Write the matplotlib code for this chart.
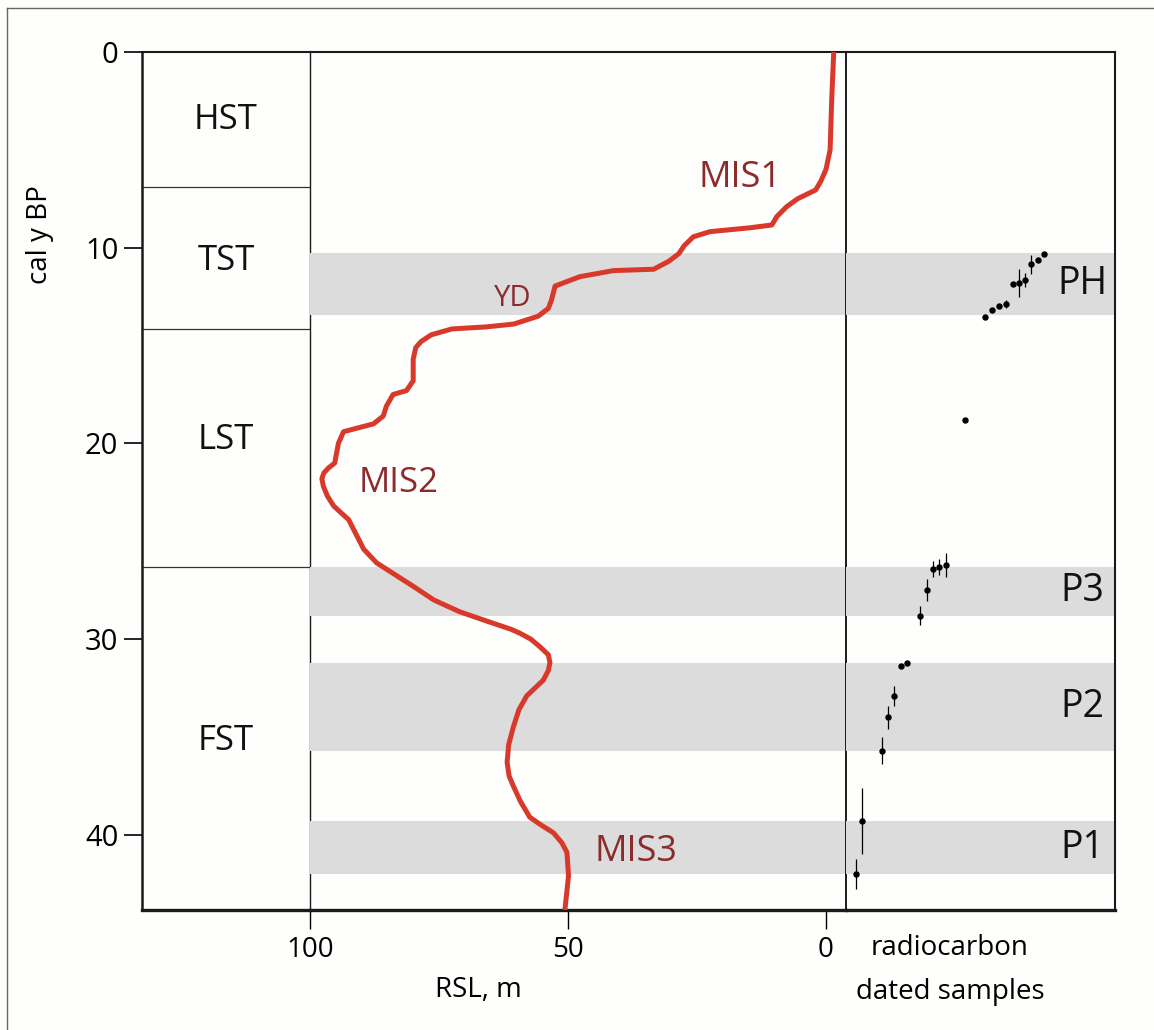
import numpy as np
import matplotlib.pyplot as plt
from matplotlib.lines import Line2D

plt.rcParams['font.family'] = ['Open Sans', 'DejaVu Sans']

# relative sea level curve (age in ky, RSL in m below present)
curve_age = [0.0, 2.5, 5.0, 6.0, 6.6, 7.05, 7.5, 7.9, 8.4, 8.84, 8.98, 9.18, 9.44,
             9.9, 10.3, 10.7, 11.1, 11.17, 11.48, 11.96, 12.67, 13.1, 13.5, 13.9,
             14.05, 14.15, 14.45, 14.8, 15.1, 15.7, 16.8, 17.3, 17.5, 18.1, 18.6,
             19.0, 19.4, 20.0, 21.0, 21.25, 21.5, 21.8, 22.2, 22.7, 23.2, 23.9,
             25.4, 26.1, 27.3, 28.0, 28.6, 29.1, 29.5, 29.7, 30.0, 30.4, 30.8,
             31.2, 31.6, 32.1, 32.9, 33.6, 34.5, 35.4, 36.3, 37.0, 37.5, 38.3,
             39.1, 39.5, 39.9, 40.4, 40.9, 42.1, 43.84]
curve_rsl = [-1.5, -1.1, -0.8, 0.0, 1.0, 2.0, 5.5, 7.6, 9.5, 10.5, 14.7, 22.5, 25.7,
             27.5, 28.5, 30.5, 33.4, 41.2, 47.7, 52.5, 53.2, 53.8, 55.8, 60.5,
             66.0, 72.5, 76.5, 78.5, 79.5, 80.0, 80.0, 81.3, 83.9, 85.2, 85.8,
             87.7, 93.5, 94.5, 95.2, 96.4, 97.3, 97.7, 97.4, 96.6, 95.4, 92.5,
             89.6, 87.1, 80.0, 76.0, 71.0, 65.5, 61.0, 59.3, 57.2, 55.4, 53.8,
             53.5, 53.8, 54.8, 58.0, 59.5, 60.6, 61.5, 61.8, 61.4, 60.6, 59.2,
             57.4, 55.2, 52.8, 51.2, 50.2, 49.9, 50.6]

# sequence stratigraphy units
tract_names = ['HST', 'TST', 'LST', 'FST']
tract_label_age = [3.5, 10.7, 19.8, 35.2]
tract_bounds = [6.9, 14.15, 26.3]

# peat / paleosol horizons
band_names = ['PH', 'P3', 'P2', 'P1']
band_top = [10.27, 26.3, 31.2, 39.3]
band_bottom = [13.44, 28.8, 35.7, 42.0]

# radiocarbon dated samples
sample_pos = [73.6, 71.3, 68.9, 66.5, 64.3, 62.0, 59.4, 56.9, 54.4, 51.8, 44.2,
              37.1, 34.7, 32.3, 30.0, 27.5, 22.8, 20.4, 18.0, 15.6, 13.3, 6.1, 3.7]
sample_age = [10.32, 10.63, 10.85, 11.65, 11.82, 11.87, 12.88, 12.98, 13.18, 13.52,
              18.8, 26.2, 26.3, 26.4, 27.5, 28.8, 31.2, 31.37, 32.9, 34.0, 35.7,
              39.3, 42.0]
sample_err = [0.1, 0.1, 0.47, 0.35, 0.72, 0.1, 0.2, 0.1, 0.1, 0.1,
              0.1, 0.6, 0.4, 0.4, 0.55, 0.47, 0.1, 0.1, 0.5, 0.6, 0.68,
              1.68, 0.77]

# curve annotations
mis_names = ['MIS1', 'YD', 'MIS2', 'MIS3']
mis_rsl = [16.7, 60.7, 82.9, 36.8]
mis_age = [6.45, 12.6, 22.0, 40.9]
mis_size = [26, 21, 25, 26]

W, H = 1154, 1030
bg = '#fefefc'
fig = plt.figure(figsize=(W / 100, H / 100), dpi=100, facecolor=bg)

def px_box(x0, x1, y0=52, y1=910):
    return [x0 / W, 1 - y1 / H, (x1 - x0) / W, (y1 - y0) / H]

ax_l = fig.add_axes(px_box(142, 310))
ax_m = fig.add_axes(px_box(310, 846))
ax_r = fig.add_axes(px_box(846, 1115))

ymax = 43.84
for ax in (ax_l, ax_m, ax_r):
    ax.set_facecolor('none')
    ax.set_ylim(ymax, 0)
    ax.spines['top'].set_linewidth(1.5)
    ax.spines['bottom'].set_linewidth(2.4)
    for s in ax.spines.values():
        s.set_color('#1a1a1a')

# left panel
ax_l.set_xlim(0, 1)
ax_l.set_xticks([])
ax_l.set_yticks([0, 10, 20, 30, 40])
ax_l.tick_params(axis='y', length=13, width=1.2, pad=4, labelsize=21)
ax_l.spines['left'].set_linewidth(1.8)
ax_l.spines['right'].set_linewidth(1.0)
ax_l.spines['right'].set_zorder(5)
for b in tract_bounds:
    ax_l.axhline(b, color='#333333', lw=0.9)
for name, a in zip(tract_names, tract_label_age):
    ax_l.text(0.5, a, name, ha='center', va='center', fontsize=25, color='#111111')

# middle panel
ax_m.set_xlim(100, -3.88)
ax_m.set_xticks([100, 50, 0])
ax_m.set_yticks([])
ax_m.tick_params(axis='x', length=14, width=1.0, pad=5, labelsize=20)
ax_m.spines['left'].set_visible(False)
ax_m.spines['right'].set_linewidth(1.4)
for t, b in zip(band_top, band_bottom):
    ax_m.axhspan(t, b, color='#dcdcdc', lw=0, zorder=0)
ax_m.plot(curve_rsl, curve_age, color='#d9392b', lw=3.6, solid_joinstyle='round',
          solid_capstyle='butt', zorder=3)
for name, x, y, fs in zip(mis_names, mis_rsl, mis_age, mis_size):
    ax_m.text(x, y, name, ha='center', va='center', fontsize=fs, color='#8c2b2b')

# right panel
ax_r.set_xlim(0, 100)
ax_r.set_xticks([])
ax_r.set_yticks([])
ax_r.spines['left'].set_visible(False)
ax_r.spines['right'].set_linewidth(1.5)
for t, b, name in zip(band_top, band_bottom, band_names):
    ax_r.axhspan(t, b, color='#dcdcdc', lw=0, zorder=0)
    ax_r.text(88, (t + b) / 2, name, ha='center', va='center', fontsize=27, color='#111111')
ax_r.errorbar(sample_pos, sample_age, yerr=sample_err, fmt='o', color='black',
              ms=3.6, elinewidth=0.9, capsize=0, zorder=3)

# axis titles
fig.text(40 / W, 1 - 235 / H, 'cal y BP', rotation=90, ha='center', va='center', fontsize=20)
fig.text(478 / W, 1 - 990 / H, 'RSL, m', ha='center', va='center', fontsize=20)
fig.text(950 / W, 1 - 948 / H, 'radiocarbon', ha='center', va='center', fontsize=20)
fig.text(950 / W, 1 - 992 / H, 'dated samples', ha='center', va='center', fontsize=20)

# outer frame lines of the original figure
fig.add_artist(Line2D([7 / W, 1], [1 - 8 / H, 1 - 8 / H], color='#666666', lw=1.0))
fig.add_artist(Line2D([7 / W, 7 / W], [0, 1 - 8 / H], color='#666666', lw=1.0))

fig.savefig('out.png', dpi=100, facecolor=bg)
